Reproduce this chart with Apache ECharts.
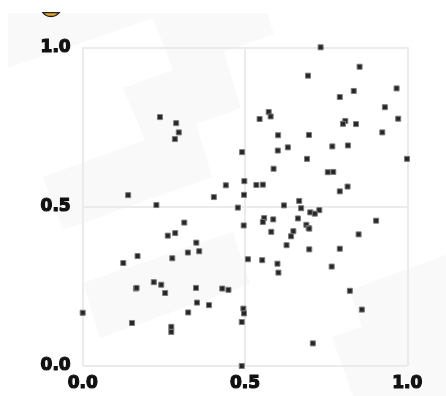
<!DOCTYPE html>
<html>
<head>
<meta charset="utf-8">
<script src="https://cdn.jsdelivr.net/npm/echarts@6/dist/echarts.min.js"></script>
<style>html,body{margin:0;padding:0;background:#fff;}#c{width:446px;height:396px;}</style>
</head>
<body>
<div id="c"></div>
<script>
var xValues = [0.238,0.288,0.296,0.284,0.491,0.441,0.498,0.497,0.140,0.404,0.227,0.478,
0.733,0.853,0.694,0.835,0.792,0.967,0.931,0.972,0.573,0.579,0.545,0.809,0.802,0.842,0.923,
0.602,0.697,0.601,0.632,0.769,0.817,0.691,0.999,0.588,0.755,0.772,0.535,0.555,0.792,0.816,
0.667,0.620,0.673,0.729,0.313,0.262,0.285,0.496,0.350,0.324,0.359,0.509,0.169,0.125,0.276,
0.219,0.242,0.164,0.166,0.254,0.349,0.430,0.449,0.352,0.389,0.325,0.495,0.497,0.490,0.000,
0.152,0.273,0.273,0.490,0.701,0.715,0.559,0.555,0.587,0.663,0.904,0.581,0.649,0.642,0.689,
0.696,0.698,0.850,0.628,0.698,0.792,0.553,0.600,0.603,0.767,0.823,0.860,0.709];
var yValues = [0.781,0.762,0.733,0.712,0.671,0.567,0.580,0.537,0.536,0.530,0.505,0.497,
1.000,0.939,0.911,0.863,0.844,0.871,0.812,0.776,0.797,0.783,0.775,0.769,0.760,0.759,0.733,
0.724,0.725,0.676,0.686,0.689,0.692,0.650,0.650,0.619,0.608,0.609,0.568,0.569,0.548,0.563,
0.518,0.504,0.495,0.489,0.450,0.409,0.417,0.441,0.387,0.356,0.360,0.335,0.345,0.323,0.338,
0.263,0.255,0.243,0.245,0.229,0.245,0.243,0.239,0.199,0.191,0.168,0.180,0.165,0.138,0.167,
0.135,0.123,0.107,0.000,0.482,0.478,0.464,0.452,0.460,0.463,0.456,0.421,0.423,0.407,0.443,
0.433,0.431,0.413,0.379,0.366,0.368,0.332,0.321,0.293,0.312,0.236,0.177,0.071];
var axisTicks = [0, 0.5, 1];

var points = xValues.map(function (x, i) { return [x, yValues[i]]; });
var chart = echarts.init(document.getElementById('c'), null, {renderer: 'canvas'});
var labelStyle = {fontFamily: 'DejaVu Sans', fontWeight: 'bold', fontSize: 17, color: '#111',
  textBorderColor: '#111', textBorderWidth: 1.2,
  formatter: function (v) { return v.toFixed(1); }};
var bg = '#f9f9f9';

// decorative icon sliver (bottom of a circle, cut at the top)
var cx = 51, cy = 6, r = 10.5, cutY = 12.7;
var a0 = Math.asin((cutY - cy) / r);
var seg = [];
for (var k = 0; k <= 20; k++) {
  var a = a0 + (Math.PI - 2 * a0) * k / 20;
  seg.push([cx + r * Math.cos(a), cy + r * Math.sin(a)]);
}

chart.setOption({
  animation: false,
  backgroundColor: '#fff',
  grid: {left: 82.7, right: 38.7, top: 47.3, bottom: 30, containLabel: false},
  xAxis: {type: 'value', min: axisTicks[0], max: axisTicks[2], interval: 0.5,
    axisLine: {show: false}, axisTick: {show: false},
    splitLine: {show: true, lineStyle: {color: '#ebebeb', width: 2}},
    axisLabel: Object.assign({margin: 9}, labelStyle)},
  yAxis: {type: 'value', min: axisTicks[0], max: axisTicks[2], interval: 0.5,
    axisLine: {show: false}, axisTick: {show: false},
    splitLine: {show: true, lineStyle: {color: '#ebebeb', width: 2}},
    axisLabel: Object.assign({margin: 12}, labelStyle)},
  graphic: [
    {type: 'polygon', z: -10, silent: true, shape: {points: [[8,13],[267,13],[274,34],[224,52],[241,108],[196,124],[212,177],[63,230],[43,177],[145,140],[123,88],[173,70],[153,18],[8,68]]}, style: {fill: bg}},
    {type: 'polygon', z: -10, silent: true, shape: {points: [[83,283],[233,232],[250,284],[100,338]]}, style: {fill: bg}},
    {type: 'polygon', z: -10, silent: true, shape: {points: [[350,290],[446,255],[446,396],[353,396],[332,337],[362,327]]}, style: {fill: bg}},
    {type: 'polygon', silent: true, shape: {points: seg}, style: {fill: '#e8a22e', stroke: '#222', lineWidth: 1.3}}
  ],
  series: [{
    type: 'scatter', data: points, symbol: 'rect', symbolSize: 5,
    itemStyle: {color: '#262626', borderColor: '#7a7a7a', borderWidth: 1, opacity: 1},
    z: 5
  }]
});
</script>
</body>
</html>
